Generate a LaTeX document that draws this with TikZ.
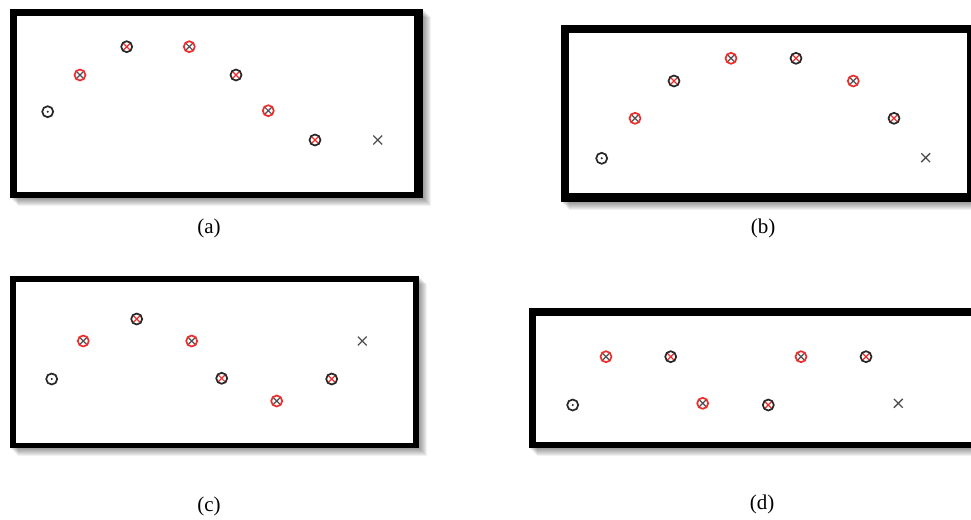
\documentclass[tikz,border=0pt]{standalone}
\usepackage{fontspec}
\setmainfont{Liberation Serif}
\usetikzlibrary{shapes.misc}
\definecolor{mred}{RGB}{240,45,45}
\definecolor{mdark}{RGB}{40,40,40}
\definecolor{mgray}{RGB}{80,80,80}
\tikzset{
  crossred/.style={path picture={\draw[mred,line width=1.2pt]
      (path picture bounding box.north west) -- (path picture bounding box.south east)
      (path picture bounding box.north east) -- (path picture bounding box.south west);}},
  crossdark/.style={path picture={\draw[mgray,line width=1.2pt]
      (path picture bounding box.north west) -- (path picture bounding box.south east)
      (path picture bounding box.north east) -- (path picture bounding box.south west);}},
  mk/.style={circle, line width=1.7pt, minimum size=11pt, inner sep=0pt},
  rc/.style={mk, draw=mred, crossdark},
  bc/.style={mk, draw=mdark, crossred},
  od/.style={mk, draw=mdark, path picture={\fill[mdark] (path picture bounding box.center) circle (1.1pt);}},
  xm/.style={cross out, draw=mgray, line width=1.3pt, minimum size=7.5pt, inner sep=0pt},
  lab/.style={font=\fontsize{21}{25}\selectfont, inner sep=0pt},
}
\newcommand\pframe[8]{%
  \foreach \s in {1,...,8}{\fill[black,opacity=0.055] (#1+\s,#2+\s) rectangle (#3+\s,#4+\s);}
  \fill[black] (#1,#2) rectangle (#3,#4);
  \fill[white] (#5,#6) rectangle (#7,#8);
}
\begin{document}
\begin{tikzpicture}[x=1pt,y=-1pt]
\useasboundingbox (0,0) rectangle (971,519);
\clip (0,0) rectangle (971,519);
\fill[white] (0,0) rectangle (971,519);
% frames
\pframe{9.5}{9.5}{422.7}{198.3}{17.3}{16}{414}{191.7}
\pframe{560.7}{25}{980}{201.7}{569}{32.7}{966.7}{193.3}
\pframe{9.5}{276}{419}{448.3}{16}{282}{412.7}{442.7}
\pframe{529.3}{308.3}{990}{448}{536}{315.5}{990}{441.5}
% (a)
\node[od] (a1) at (47.7,111.7) {};
\node[rc] (a2) at (80,75) {};
\node[bc] (a3) at (126.7,46.7) {};
\node[rc] (a4) at (189.3,46.7) {};
\node[bc] (a5) at (236,75) {};
\node[rc] (a6) at (268.3,110.7) {};
\node[bc] (a7) at (315,140) {};
\node[xm] (a8) at (377.7,140) {};
\node[lab] (la) at (209,228) {(a)};
% (b)
\node[od] (b1) at (601.7,158.3) {};
\node[rc] (b2) at (635,118.3) {};
\node[bc] (b3) at (674,81) {};
\node[rc] (b4) at (731,58.3) {};
\node[bc] (b5) at (796,58.3) {};
\node[rc] (b6) at (853.3,81) {};
\node[bc] (b7) at (894,118.3) {};
\node[xm] (b8) at (925.7,157.7) {};
\node[lab] (lb) at (763,228) {(b)};
% (c)
\node[od] (c1) at (51.7,379) {};
\node[rc] (c2) at (83.3,341) {};
\node[bc] (c3) at (136.7,319) {};
\node[rc] (c4) at (191.7,341) {};
\node[bc] (c5) at (221.7,378.3) {};
\node[rc] (c6) at (276.7,401) {};
\node[bc] (c7) at (331.7,379) {};
\node[xm] (c8) at (362.3,341) {};
\node[lab] (lc) at (209,506) {(c)};
% (d)
\node[od] (d1) at (572.7,405) {};
\node[rc] (d2) at (606,356.7) {};
\node[bc] (d3) at (670.7,356.7) {};
\node[rc] (d4) at (702.7,403.3) {};
\node[bc] (d5) at (768.3,405) {};
\node[rc] (d6) at (801,356.7) {};
\node[bc] (d7) at (866,356.7) {};
\node[xm] (d8) at (898.3,403.3) {};
\node[lab] (ld) at (762,504) {(d)};
\end{tikzpicture}
\end{document}
